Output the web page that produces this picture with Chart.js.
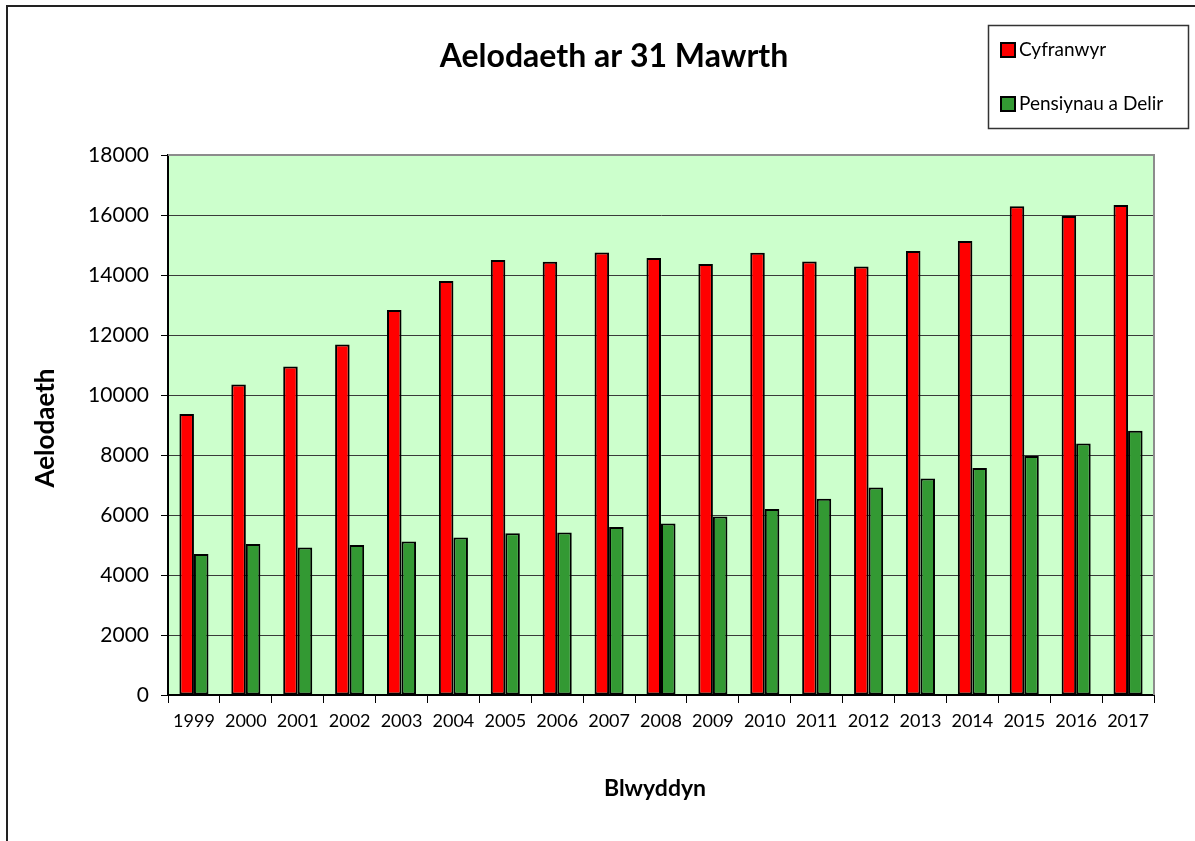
<!doctype html>
<html>
    <head>
        <title>Aelodaeth ar 31 Mawrth</title>
        <script src="https://cdn.jsdelivr.net/npm/chart.js"></script>
        <style>
            html, body { margin: 0; padding: 0; background: #ffffff; }
            canvas { display: block; }
        </style>
    </head>
    <body>
        <canvas id="memberChart" width="1195" height="841"></canvas>
        <script>
            // Values
            const years = [
                "1999", "2000", "2001", "2002", "2003", "2004", "2005",
                "2006", "2007", "2008", "2009", "2010", "2011", "2012",
                "2013", "2014", "2015", "2016", "2017",
            ];
            const cyfranwyr = [
                9370, 10350, 10950, 11680, 12830, 13800, 14500, 14440,
                14750, 14570, 14370, 14740, 14450, 14280, 14800, 15130,
                16290, 15970, 16330,
            ];
            const pensiynau = [
                4700, 5030, 4920, 5000, 5120, 5250, 5390, 5420, 5600,
                5720, 5950, 6200, 6540, 6920, 7220, 7570, 7970, 8380, 8810,
            ];
            const seriesNames = ["Cyfranwyr", "Pensiynau a Delir"];
            const seriesColors = ["#ff0000", "#339933"];
            const yMin = 0;
            const yMax = 18000;
            const yStep = 2000;

            const chartTitle = "Aelodaeth ar 31 Mawrth";
            const xTitle = "Blwyddyn";
            const yTitle = "Aelodaeth";
            const fontFamily = "Lato, 'Open Sans', sans-serif";

            // background, frame, title, axis titles and the boxed legend
            const decorations = {
                id: "decorations",
                beforeDraw(chart) {
                    const { ctx, chartArea } = chart;
                    ctx.save();
                    ctx.fillStyle = "#ffffff";
                    ctx.fillRect(0, 0, chart.width, chart.height);
                    ctx.fillStyle = "#ccffcc";
                    ctx.fillRect(
                        chartArea.left,
                        chartArea.top,
                        chartArea.right - chartArea.left,
                        chartArea.bottom - chartArea.top,
                    );
                    ctx.restore();
                },
                afterDraw(chart) {
                    const { ctx, chartArea } = chart;
                    ctx.save();

                    // outer frame (only left and top show in the picture)
                    ctx.strokeStyle = "#222222";
                    ctx.lineWidth = 2;
                    ctx.strokeRect(7, 6, chart.width + 20, chart.height + 20);

                    // grey top and right edges of the plot area
                    ctx.strokeStyle = "#8c8c8c";
                    ctx.lineWidth = 2;
                    ctx.beginPath();
                    ctx.moveTo(chartArea.left, chartArea.top);
                    ctx.lineTo(chartArea.right, chartArea.top);
                    ctx.lineTo(chartArea.right, chartArea.bottom);
                    ctx.stroke();

                    ctx.fillStyle = "#000000";
                    ctx.textAlign = "center";
                    ctx.textBaseline = "middle";

                    ctx.font = "bold 32px " + fontFamily;
                    ctx.fillText(chartTitle, 614, 57);

                    ctx.font = "bold 23px " + fontFamily;
                    ctx.fillText(xTitle, 655, 789);

                    ctx.save();
                    ctx.font = "bold 26px " + fontFamily;
                    ctx.translate(46, (chartArea.top + chartArea.bottom) / 2 + 3);
                    ctx.rotate(-Math.PI / 2);
                    ctx.fillText(yTitle, 0, 0);
                    ctx.restore();

                    // legend box
                    ctx.strokeStyle = "#333333";
                    ctx.lineWidth = 1.5;
                    ctx.strokeRect(988.5, 25.5, 200, 103);
                    ctx.font = "19px " + fontFamily;
                    ctx.textAlign = "left";
                    const rows = [50, 104];
                    chart.data.datasets.forEach((ds, i) => {
                        const y = rows[i];
                        ctx.fillStyle = ds.backgroundColor;
                        ctx.fillRect(1001, y - 7, 14, 14);
                        ctx.strokeStyle = "#000000";
                        ctx.lineWidth = 2;
                        ctx.strokeRect(1001, y - 7, 14, 14);
                        ctx.fillStyle = "#000000";
                        ctx.fillText(ds.label, 1019, y);
                    });

                    ctx.restore();
                },
            };

            const ctx = document.getElementById("memberChart").getContext("2d");
            const chart = new Chart(ctx, {
                type: "bar",
                data: {
                    labels: years,
                    datasets: [
                        {
                            label: seriesNames[0],
                            data: cyfranwyr,
                            backgroundColor: seriesColors[0],
                            borderColor: "#000000",
                            borderWidth: 2,
                            borderSkipped: false,
                            barPercentage: 1,
                            categoryPercentage: 0.56,
                        },
                        {
                            label: seriesNames[1],
                            data: pensiynau,
                            backgroundColor: seriesColors[1],
                            borderColor: "#000000",
                            borderWidth: 2,
                            borderSkipped: false,
                            barPercentage: 1,
                            categoryPercentage: 0.56,
                        },
                    ],
                },
                options: {
                    responsive: false,
                    animation: false,
                    layout: {
                        padding: { top: 155, right: 41, left: 0, bottom: 0 },
                    },
                    plugins: {
                        legend: { display: false },
                        title: { display: false },
                        tooltip: { enabled: false },
                    },
                    scales: {
                        x: {
                            afterFit(scale) {
                                scale.height = 146;
                            },
                            grid: {
                                offset: true,
                                drawOnChartArea: false,
                                drawTicks: true,
                                tickLength: 8,
                                tickColor: "#000000",
                            },
                            border: { display: true, color: "#000000", width: 2 },
                            ticks: {
                                color: "#000000",
                                font: { family: fontFamily, size: 18 },
                                padding: 7,
                                maxRotation: 0,
                                autoSkip: false,
                            },
                        },
                        y: {
                            min: yMin,
                            max: yMax,
                            afterFit(scale) {
                                scale.width = 168;
                            },
                            grid: {
                                color: "#3a3a3a",
                                lineWidth: 1,
                                tickLength: 7,
                                tickColor: "#000000",
                            },
                            border: { display: true, color: "#000000", width: 2 },
                            ticks: {
                                stepSize: yStep,
                                color: "#000000",
                                font: { family: fontFamily, size: 21 },
                                padding: 12,
                                callback: (v) => String(v),
                            },
                        },
                    },
                },
                plugins: [decorations],
            });
        </script>
    </body>
</html>
